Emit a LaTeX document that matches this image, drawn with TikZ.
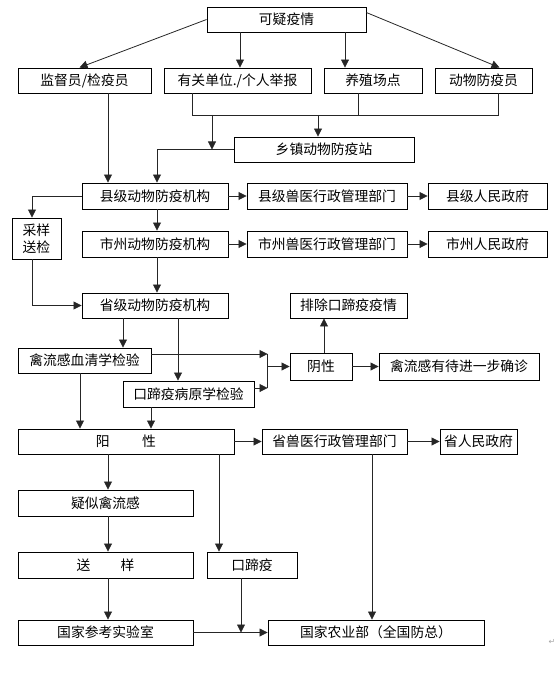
\documentclass[tikz,border=0pt]{standalone}
\usepackage{fontspec}
\setmainfont{Noto Sans CJK SC}
\newfontfamily\symfont{DejaVu Sans}
\usetikzlibrary{arrows.meta,calc}
\begin{document}
\begin{tikzpicture}[x=1pt,y=-1pt,
  box/.style={draw=black,line width=0.9pt,fill=white,inner sep=0pt,minimum height=25pt,
    font=\fontsize{13.8pt}{16pt}\selectfont,align=center},
  ln/.style={line width=0.8pt,draw=black!85},
  arr/.style={ln,-{Triangle[length=8pt,width=8pt]}}]
\useasboundingbox (0,0) rectangle (557,695);
% nodes
\node[box,minimum width=159pt] (yiyi) at (286.5,19.5) {可疑疫情};
\node[box,minimum width=133pt] (jdy) at (84.5,80.5) {监督员/检疫员};
\node[box,minimum width=147pt] (ygdw) at (237.5,80.5) {有关单位./个人举报};
\node[box,minimum width=98pt] (yzcd) at (373,80.5) {养殖场点};
\node[box,minimum width=97pt] (dwfyy) at (483.5,80.5) {动物防疫员};
\node[box,minimum width=180pt] (xz) at (324,149.5) {乡镇动物防疫站};
\node[box,minimum width=146pt,minimum height=26pt] (xj) at (155,196) {县级动物防疫机构};
\node[box,minimum width=160pt,minimum height=26pt] (xjsy) at (327,196) {县级兽医行政管理部门};
\node[box,minimum width=119pt,minimum height=26pt] (xjzf) at (487.5,196) {县级人民政府};
\node[box,minimum width=146pt,minimum height=26pt] (sz) at (155,244) {市州动物防疫机构};
\node[box,minimum width=160pt,minimum height=26pt] (szsy) at (327,244) {市州兽医行政管理部门};
\node[box,minimum width=119pt,minimum height=26pt] (szzf) at (487.5,244) {市州人民政府};
\node[box,minimum width=49pt,minimum height=41pt,font=\fontsize{13.8pt}{17pt}\selectfont] (cy) at (36.5,238.5) {采样\\送检};
\node[box,minimum width=146pt] (sj) at (155,305.5) {省级动物防疫机构};
\node[box,minimum width=117pt] (pc) at (348.5,305.5) {排除口蹄疫疫情};
\node[box,minimum width=133pt] (qlg) at (84.5,360.5) {禽流感血清学检验};
\node[box,minimum width=131pt,minimum height=26pt] (kty) at (188.5,394) {口蹄疫病原学检验};
\node[box,minimum width=62pt,minimum height=27pt] (yin) at (321,366.5) {阴性};
\node[box,minimum width=160pt,minimum height=27pt] (qlgd) at (459,366.5) {禽流感有待进一步确诊};
\node[box,minimum width=216pt] (yang) at (126,441.5) {阳\hspace{2.35em}性};
\node[box,minimum width=145pt] (ssy) at (334.5,441.5) {省兽医行政管理部门};
\node[box,minimum width=77pt] (szf) at (478.5,441.5) {省人民政府};
\node[box,minimum width=175pt,minimum height=26pt] (ysq) at (105.5,503) {疑似禽流感};
\node[box,minimum width=175pt,minimum height=26pt] (sy) at (105.5,565) {送\hspace{2.2em}样};
\node[box,minimum width=90pt,minimum height=26pt] (kt) at (252,565) {口蹄疫};
\node[box,minimum width=175pt] (gjck) at (105.5,632.5) {国家参考实验室};
\node[box,minimum width=216pt] (nyb) at (376,632.5) {国家农业部（全国防总）};
\node[text=black!35,font=\symfont\fontsize{8pt}{9pt}\selectfont] (ret) at (552,642) {↵};
% top fan-out
\draw[arr] (yiyi.west) -- ([xshift=-5pt]jdy.north);
\draw[arr] ([yshift=-6pt]yiyi.north east) -- ([xshift=16pt]dwfyy.north);
\coordinate (t1) at ($(ygdw.north)+(2.5,0)$);
\draw[arr] (t1 |- yiyi.south) -- (t1);
\coordinate (t2) at ($(yzcd.north)+(-28,0)$);
\draw[arr] (t2 |- yiyi.south) -- (t2);
% merge bus
\coordinate (bus) at (0,115);
\coordinate (m1) at ($(ygdw.south)+(-45.5,0)$);
\coordinate (m2) at ($(yzcd.south)+(-15,0)$);
\coordinate (m3) at ($(dwfyy.south)+(14.5,0)$);
\draw[ln] (m1) -- (m1 |- bus) -- (m3 |- bus) -- (m3);
\draw[ln] (m2) -- (m2 |- bus);
\coordinate (d1) at ($(xz.north)+(-6,0)$);
\draw[arr] (d1 |- bus) -- (d1);
\coordinate (d2) at ($(ygdw.south)+(-25.5,0)$);
\draw[arr] (d2 |- bus) -- (d2 |- xz.west);
\coordinate (d4) at ($(xj.north)+(2,0)$);
\draw[arr] (xz.west) -| (d4);
\coordinate (d3) at ($(jdy.south)+(23.5,0)$);
\draw[arr] (d3) -- (d3 |- xj.north);
% county / city rows
\draw[arr] (xj.east) -- (xjsy.west);
\draw[arr] (xjsy.east) -- (xjzf.west);
\draw[arr] (sz.east) -- (szsy.west);
\draw[arr] (szsy.east) -- (szzf.west);
\draw[arr] (d4 |- xj.south) -- (d4 |- sz.north);
\draw[arr] (d4 |- sz.south) -- (d4 |- sj.north);
\coordinate (c1) at ($(cy.north)+(-4.5,0)$);
\draw[arr] (xj.west) -| (c1);
\coordinate (c2) at ($(cy.south)+(-4.5,0)$);
\draw[arr] (c2) |- (sj.west);
% province tests
\coordinate (p1) at ($(sj.south)+(-32,0)$);
\draw[arr] (p1) -- (p1 |- qlg.north);
\coordinate (p2) at ($(sj.south)+(23,0)$);
\draw[arr] (p2) -- (p2 |- kty.north);
\coordinate (jn) at ($(yin.west)+(-22,0)$);
\coordinate (q1) at ([yshift=6.5pt]qlg.east);
\coordinate (k1) at ([yshift=6pt]kty.east);
\draw[arr] (q1) -- (q1 -| jn);
\draw[arr] (k1) -- (k1 -| jn);
\draw[ln] (q1 -| jn) -- (k1 -| jn);
\draw[arr] (jn) -- (yin.west);
\coordinate (y1) at ($(yin.north)+(3,0)$);
\draw[arr] (y1) -- (y1 |- pc.south);
\draw[arr] (yin.east) -- (qlgd.west);
% positive
\coordinate (g1) at ($(qlg.south)+(-4.5,0)$);
\draw[arr] (g1) -- (g1 |- yang.north);
\coordinate (g2) at ($(kty.south)+(-37.5,0)$);
\draw[arr] (g2) -- (g2 |- yang.north);
\draw[arr] (yang.east) -- (ssy.west);
\draw[arr] (ssy.east) -- (szf.west);
\coordinate (h1) at ($(ysq.north)+(2.5,0)$);
\draw[arr] (h1 |- yang.south) -- (h1);
\draw[arr] (h1 |- ysq.south) -- (h1 |- sy.north);
\draw[arr] (h1 |- sy.south) -- (h1 |- gjck.north);
\coordinate (h2) at ($(kt.north)+(-33,0)$);
\draw[arr] (h2 |- yang.south) -- (h2);
\draw[arr] (gjck.east) -- (nyb.west);
\coordinate (h3) at ($(kt.south)+(-11,0)$);
\draw[arr] (h3) -- (h3 |- nyb.west);
\coordinate (h4) at ($(nyb.north)+(-4,0)$);
\draw[arr] (h4 |- ssy.south) -- (h4);
\end{tikzpicture}
\end{document}
